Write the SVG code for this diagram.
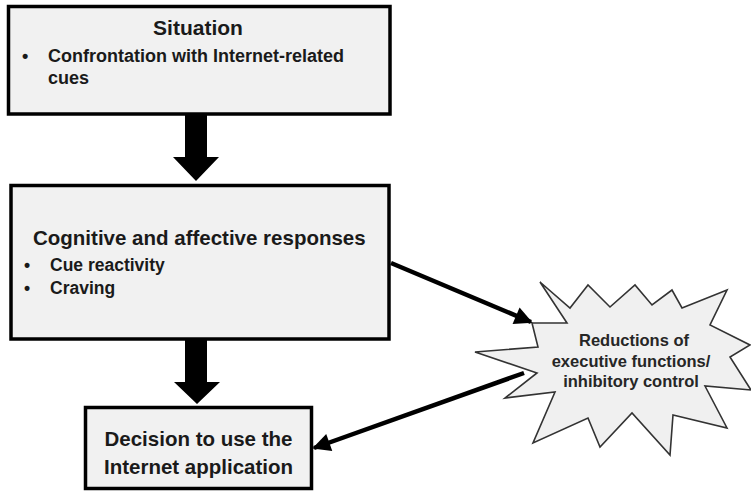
<svg xmlns="http://www.w3.org/2000/svg" width="751" height="492" viewBox="0 0 751 492">
<style>
.box{fill:#f1f1f1;stroke:#000;stroke-width:3.5}
.burst{fill:#f0f0f0;stroke:#333;stroke-width:1.6;stroke-linejoin:miter}
text{font-family:"Liberation Sans",Arial,sans-serif;font-weight:bold;fill:#1a1a1a}
.h{font-size:20.5px}
.b{font-size:17.5px}
.c{font-size:20.5px;text-anchor:middle}
.s{font-size:16.5px;text-anchor:middle;fill:#262626}
.line{stroke:#000;stroke-width:4.5;fill:none}
.block{fill:#000}
</style>
<defs>
<marker id="ah" viewBox="0 0 10 10" refX="9" refY="5" markerWidth="5" markerHeight="4" markerUnits="strokeWidth" orient="auto">
<path d="M0,0 L10,5 L0,10 z" fill="#000"/>
</marker>
</defs>
<g id="situation">
<rect class="box" x="8.5" y="6.5" width="381.5" height="107.5"/>
<text class="c" x="198" y="35" style="font-size:21px">Situation</text>
<text class="b" x="22" y="62" style="font-size:18px">•</text>
<text class="b" x="48" y="62" style="font-size:18px">Confrontation with Internet-related</text>
<text class="b" x="48" y="84" style="font-size:18px">cues</text>
</g>
<g id="responses">
<rect class="box" x="11" y="185.5" width="378" height="153.5"/>
<text class="h" x="33" y="245">Cognitive and affective responses</text>
<text class="b" x="24" y="271">•</text>
<text class="b" x="50" y="271">Cue reactivity</text>
<text class="b" x="24" y="294">•</text>
<text class="b" x="50" y="294">Craving</text>
</g>
<g id="decision">
<rect class="box" x="85.5" y="407.5" width="226" height="81"/>
<text class="c" x="198.5" y="446">Decision to use the</text>
<text class="c" x="198.5" y="474">Internet application</text>
</g>
<g id="reductions">
<polygon class="burst" points="475,352 538,347 532,323 567,323 540,282 570,308 588,285 610,307 635,285 652,305 672,290 682,308 727,290 710,325 750,345 730,357 751,390 705,386 727,428 673,415 670,455 632,413 600,447 588,418 533,443 555,392 505,398 537,373"/>
<text class="s" x="634" y="346">Reductions of</text>
<text class="s" x="631" y="367">executive functions/</text>
<text class="s" x="631" y="387">inhibitory control</text>
</g>
<g id="connectors">
<polygon class="block" points="185,114 207,114 207,157 219,157 196,181 173,157 185,157"/>
<polygon class="block" points="185,339 207,339 207,382 220,382 197,404 174,382 185,382"/>
<line class="line" x1="391" y1="263" x2="531" y2="322" marker-end="url(#ah)"/>
<line class="line" x1="524" y1="373" x2="314" y2="448" marker-end="url(#ah)"/>
</g>
</svg>
